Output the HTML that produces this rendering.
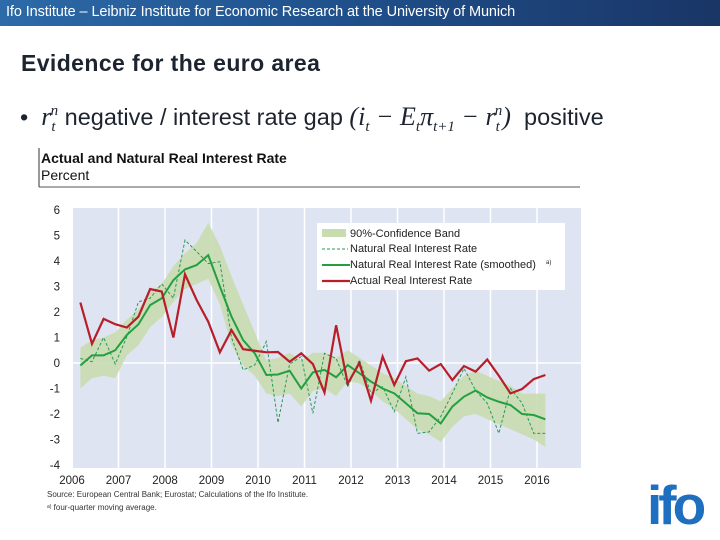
<!DOCTYPE html>
<html><head><meta charset="utf-8"><style>
body{margin:0;width:720px;height:540px;background:#fff;font-family:"Liberation Sans",sans-serif;position:relative;overflow:hidden}
.abs{position:absolute}
</style></head><body>
<div class="abs" style="left:0;top:0;width:720px;height:26px;background:linear-gradient(90deg,#2c6aa8,#1f4f8a 50%,#1a3566);color:#fff;font-size:14.5px;line-height:25px;padding-left:6px;box-sizing:border-box;letter-spacing:-0.1px">Ifo Institute – Leibniz Institute for Economic Research at the University of Munich</div>
<div class="abs" style="left:21px;top:50px;font-size:23px;font-weight:bold;color:#1c2430;letter-spacing:0.4px">Evidence for the euro area</div>
<div class="abs" style="left:20px;top:102px;font-size:23.5px;color:#1c2430;white-space:nowrap">•&nbsp;&nbsp;<i style="font-family:'Liberation Serif',serif;font-size:26px">r<sub style="font-size:15px">t</sub><sup style="font-size:15px;margin-left:-5px">n</sup></i> negative / interest rate gap <span style="font-family:'Liberation Serif',serif;font-size:26px"><i>(i<sub style="font-size:15px">t</sub> − E<sub style="font-size:15px">t</sub>π<sub style="font-size:15px">t+1</sub> − r<sub style="font-size:15px">t</sub><sup style="font-size:15px;margin-left:-5px">n</sup>)</i></span>&nbsp; positive</div>
<svg class="abs" style="left:0;top:0" width="720" height="540">
<line x1="39" y1="148" x2="39" y2="187" stroke="#333" stroke-width="1"/>
<line x1="39" y1="187" x2="580" y2="187" stroke="#555" stroke-width="1"/>
<text x="41" y="163" font-size="14" font-weight="bold" fill="#111">Actual and Natural Real Interest Rate</text>
<text x="41" y="180" font-size="14" fill="#111">Percent</text>
<rect x="73" y="208" width="508" height="260" fill="#dfe4f2"/>
<g id="grid"></g><g id="band"></g><g id="lines"></g><g id="axes" font-size="11.5" fill="#222"></g>
<g>
<rect x="317" y="223" width="248" height="67" fill="#fff"/>
<rect x="322" y="229" width="24" height="8" fill="#c9dcb0"/>
<text x="350" y="237" font-size="11" fill="#222">90%-Confidence Band</text>
<line x1="322" y1="249" x2="348" y2="249" stroke="#2a9a55" stroke-dasharray="3,2"/>
<text x="350" y="252" font-size="11" fill="#222">Natural Real Interest Rate</text>
<line x1="322" y1="265" x2="350" y2="265" stroke="#22a040" stroke-width="2"/>
<text x="350" y="268" font-size="11" fill="#222">Natural Real Interest Rate (smoothed)</text>
<text x="546" y="264" font-size="6" fill="#222">a)</text>
<line x1="322" y1="281" x2="350" y2="281" stroke="#b81e2a" stroke-width="2.2"/>
<text x="350" y="284" font-size="11" fill="#222">Actual Real Interest Rate</text>
</g>
<text x="47" y="497" font-size="8" fill="#333">Source: European Central Bank; Eurostat; Calculations of the Ifo Institute.</text>
<text x="47" y="510" font-size="8" fill="#333"><tspan font-size="5" dy="-2">a)</tspan><tspan dy="2"> four-quarter moving average.</tspan></text>
<text x="647" y="524" font-size="55" font-weight="bold" fill="#1f6fc0" letter-spacing="-4">ifo</text>
</svg>
<script>
const years=[2006,2007,2008,2009,2010,2011,2012,2013,2014,2015,2016];
const yTicks=[6,5,4,3,2,1,0,-1,-2,-3,-4];
const actual=[2.37,0.75,1.73,1.52,1.39,1.82,2.9,2.8,1.0,3.48,2.47,1.62,0.42,1.29,0.54,0.48,0.42,0.43,0.05,0.38,-0.04,-1.16,1.48,-0.81,0,-1.48,0.25,-0.86,0.07,0.18,-0.3,-0.04,-0.67,-0.12,-0.34,0.14,-0.5,-1.19,-1.02,-0.63,-0.47];
const smoothed=[-0.1,0.3,0.3,0.5,1.1,1.52,2.27,2.54,3.25,3.67,3.84,4.23,3.0,1.82,0.9,0.38,-0.47,-0.45,-0.3,-1.0,-0.37,-0.27,-0.56,-0.08,-0.4,-0.73,-1.0,-1.19,-1.58,-1.97,-2.0,-2.37,-1.71,-1.32,-1.08,-1.35,-1.52,-1.65,-2.0,-2.04,-2.21];
const natural=[0.18,0.05,1.0,-0.04,1.03,2.4,2.54,3.1,2.54,4.82,4.37,3.9,3.97,1.0,-0.27,-0.08,0.84,-2.34,-0.04,0.25,-1.97,0.38,0.18,-0.93,0.12,-1.19,-0.93,-1.91,-0.54,-2.76,-2.7,-2.1,-1.19,-0.21,-1.08,-1.58,-2.76,-1.0,-1.58,-2.76,-2.76];
const bandUpper=[0.6,0.9,1.0,1.2,1.7,2.1,2.8,3.1,3.8,4.3,4.7,5.5,4.6,3.4,2.3,1.2,0.1,0.2,0.4,0.1,0.4,0.4,0.2,0.5,0.2,-0.1,-0.4,-0.6,-0.9,-1.2,-1.3,-1.5,-1.0,-0.5,-0.3,-0.5,-0.7,-0.9,-1.2,-1.2,-1.2];
const bandLower=[-1.0,-0.6,-0.5,-0.6,0.3,0.7,1.4,1.8,2.4,2.9,3.1,3.3,2.3,0.7,-0.1,-0.5,-1.2,-1.3,-1.2,-1.7,-1.1,-1.0,-1.3,-0.7,-0.8,-1.1,-1.5,-1.8,-2.2,-2.6,-2.8,-3.1,-2.5,-2.1,-2.0,-2.2,-2.4,-2.6,-2.8,-3.0,-3.3];
const NS='http://www.w3.org/2000/svg';
const xY=y=>72+(y-2006)*46.5;
const xQ=i=>xY(2006.18+0.25*i);
const yV=v=>363-v*25.5;
function mk(t,p,a){const e=document.createElementNS(NS,t);for(const k in a)e.setAttribute(k,a[k]);p.appendChild(e);return e;}
const grid=document.getElementById('grid'),axes=document.getElementById('axes'),band=document.getElementById('band'),lines=document.getElementById('lines');
years.forEach(y=>{
 if(y>2006){const g=mk('line',grid,{x1:xY(y),x2:xY(y),y1:208,y2:468,stroke:'#fff','stroke-width':1.5});
 
 }
 const t=mk('text',axes,{x:xY(y),y:484,'text-anchor':'middle'});t.textContent=y;
 
 
});
const z=mk('line',grid,{x1:73,x2:581,y1:yV(0),y2:yV(0),stroke:'#fff','stroke-width':1.5});


yTicks.forEach(v=>{const t=mk('text',axes,{x:60,y:yV(v)+4,'text-anchor':'end'});t.textContent=v;
 
 });
let d=bandUpper.map((v,i)=>(i?'L':'M')+xQ(i)+','+yV(v)).join('');
for(let i=bandLower.length-1;i>=0;i--)d+='L'+xQ(i)+','+yV(bandLower[i]);
const b=mk('path',band,{d:d+'Z',fill:'#c9dcb0',opacity:0.9});


function line(arr,attrs,name){const p=mk('polyline',lines,Object.assign({points:arr.map((v,i)=>xQ(i)+','+yV(v)).join(' '),fill:'none'},attrs));
 
 }
line(natural,{stroke:'#2a9a55','stroke-width':1,'stroke-dasharray':'3,2'},'natural-rate-line');
line(smoothed,{stroke:'#22a040','stroke-width':2},'natural-rate-smoothed-line');
line(actual,{stroke:'#b81e2a','stroke-width':2.2},'actual-rate-line');
</script>
</body></html>
